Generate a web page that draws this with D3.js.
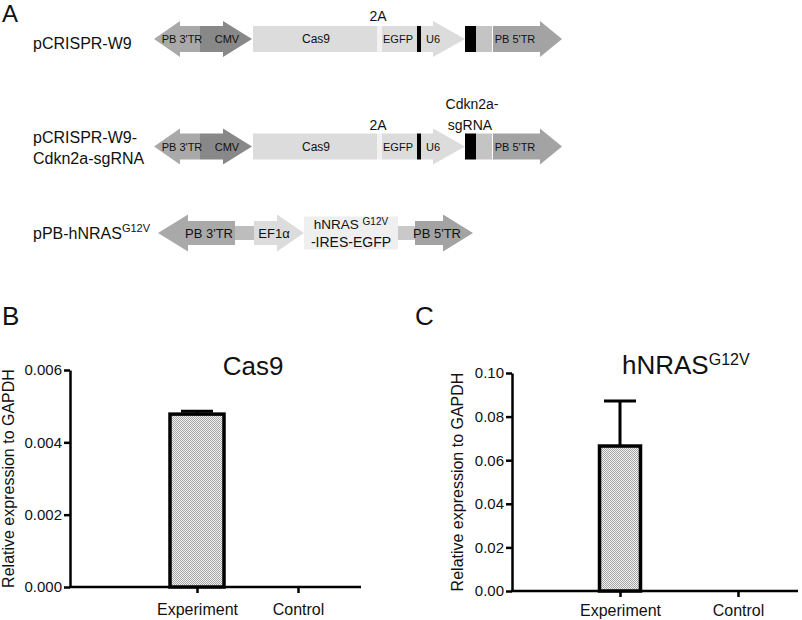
<!DOCTYPE html>
<html>
<head>
<meta charset="utf-8">
<script src="https://cdn.jsdelivr.net/npm/d3@7"></script>
<style>
  body { margin: 0; background: #fff; }
  text { font-family: "Liberation Sans", Arial, sans-serif; fill: #111; }
</style>
</head>
<body>
<div id="fig"></div>
<script>
// ---- bar chart data ----
let categories = ["Experiment", "Control"];
let cas9Values = [0.00478, 0];
let cas9Errors = [0.00008, 0];
let cas9Ticks = [0, 0.002, 0.004, 0.006];
let nrasValues = [0.0665, 0];
let nrasErrors = [0.0207, 0];
let nrasTicks = [0, 0.02, 0.04, 0.06, 0.08, 0.10];

// ---- construct maps (map units along each vector) ----
let w9Features = [
    {name: "PB 3'TR", shape: "left", start: 0, end: 46, head: 26, lx: 28},
    {name: "CMV", shape: "right", start: 46, end: 98, head: 29, lx: 73},
    {name: "Cas9", shape: "box", start: 99, end: 223, lx: 162},
    {name: "2A", shape: "box", start: 223, end: 228},
    {name: "EGFP", shape: "box", start: 228, end: 263, lx: 244},
    {name: "term", shape: "box", start: 263, end: 267},
    {name: "U6", shape: "right", start: 267, end: 311, head: 32, lx: 279},
    {name: "sgRNA", shape: "box", start: 311, end: 322},
    {name: "scaffold", shape: "box", start: 322, end: 338},
    {name: "PB 5'TR", shape: "right", start: 339, end: 408, head: 22, lx: 361}
];
let nrasFeatures = [
    {name: "PB 3'TR", shape: "left", start: 4, end: 81, head: 30, lx: 55, big: true},
    {name: "linker", shape: "thin", start: 81, end: 100},
    {name: "EF1\u03b1", shape: "right", start: 100, end: 150, head: 27, lx: 120, big: true},
    {name: "hNRAS", shape: "tall", start: 150, end: 244},
    {name: "linker2", shape: "thin", start: 244, end: 261},
    {name: "PB 5'TR", shape: "right", start: 261, end: 319, head: 30, lx: 283, big: true}
];

let featureColors = {
    "PB 3'TR": "#a9a9a9", "CMV": "#888888", "Cas9": "#dcdcdc", "2A": "#f2f2f2",
    "EGFP": "#dcdcdc", "term": "#000000", "U6": "#dcdcdc", "sgRNA": "#000000",
    "scaffold": "#c4c4c4", "PB 5'TR": "#a3a3a3", "linker": "#bdbdbd",
    "EF1\u03b1": "#dcdcdc", "hNRAS": "#efefef", "linker2": "#c9c9c9"
};

let svg = d3.select("#fig").append("svg")
    .attr("width", 802)
    .attr("height", 620);

let defs = svg.append("defs");
let pat = defs.append("pattern")
    .attr("id", "hatch")
    .attr("width", 2).attr("height", 2)
    .attr("patternUnits", "userSpaceOnUse");
pat.append("rect").attr("width", 2).attr("height", 2).attr("fill", "#f2f2f2");
pat.append("rect").attr("width", 1).attr("height", 1).attr("fill", "#a4a4a4");
pat.append("rect").attr("x", 1).attr("y", 1).attr("width", 1).attr("height", 1).attr("fill", "#a4a4a4");

// panel letters
svg.append("text").attr("x", 2).attr("y", 22).attr("font-size", 24).text("A");
svg.append("text").attr("x", 2).attr("y", 325).attr("font-size", 26).text("B");
svg.append("text").attr("x", 415).attr("y", 325).attr("font-size", 26).text("C");

// ---- panel A ----
let xMap = d3.scaleLinear().domain([0, 410]).range([154, 564]);
let line = d3.line();

function featurePoints(f, cy, bh, hh) {
    let x0 = xMap(f.start), x1 = xMap(f.end);
    if (f.shape === "right") {
        let xb = xMap(f.end - f.head);
        return [[x0, cy - bh], [xb, cy - bh], [xb, cy - hh], [x1, cy], [xb, cy + hh], [xb, cy + bh], [x0, cy + bh]];
    }
    if (f.shape === "left") {
        let xb = xMap(f.start + f.head);
        return [[x1, cy - bh], [xb, cy - bh], [xb, cy - hh], [x0, cy], [xb, cy + hh], [xb, cy + bh], [x1, cy + bh]];
    }
    let h = f.shape === "thin" ? 7 : f.shape === "tall" ? 16.5 : bh;
    return [[x0, cy - h], [x1, cy - h], [x1, cy + h], [x0, cy + h]];
}

function drawConstruct(features, cy, bh, hh) {
    let g = svg.append("g");
    g.selectAll("path")
        .data(features)
        .enter().append("path")
        .attr("d", (d) => line(featurePoints(d, cy, bh, hh)) + "Z")
        .attr("fill", (d) => featureColors[d.name]);
    g.selectAll("text")
        .data(features.filter((d) => d.lx !== undefined))
        .enter().append("text")
        .attr("x", (d) => xMap(d.lx))
        .attr("y", (d) => cy + (d.big ? 5 : 4))
        .attr("text-anchor", "middle")
        .attr("font-size", (d) => d.big ? 13 : (d.name === "Cas9" ? 12 : 11))
        .text((d) => d.name);
    return g;
}

drawConstruct(w9Features, 39, 13, 18);
drawConstruct(w9Features, 146.5, 13, 18);
let g3 = drawConstruct(nrasFeatures, 233, 12, 18.5);

// text inside the hNRAS box
let nt = g3.append("text").attr("x", xMap(197)).attr("y", 229)
    .attr("text-anchor", "middle").attr("font-size", 13.5);
nt.append("tspan").text("hNRAS ");
nt.append("tspan").attr("font-size", 10).attr("dy", -4).text("G12V");
g3.append("text").attr("x", xMap(197)).attr("y", 247)
    .attr("text-anchor", "middle").attr("font-size", 14).text("-IRES-EGFP");

// construct names & annotations
svg.append("text").attr("x", 33).attr("y", 49).attr("font-size", 16).text("pCRISPR-W9");
svg.append("text").attr("x", 33).attr("y", 143).attr("font-size", 16).text("pCRISPR-W9-");
svg.append("text").attr("x", 33).attr("y", 164).attr("font-size", 16).text("Cdkn2a-sgRNA");
let n3 = svg.append("text").attr("x", 33).attr("y", 239).attr("font-size", 16);
n3.append("tspan").text("pPB-hNRAS");
n3.append("tspan").attr("font-size", 11).attr("dy", -7).text("G12V");

svg.append("text").attr("x", 378).attr("y", 21).attr("text-anchor", "middle").attr("font-size", 14).text("2A");
svg.append("text").attr("x", 378).attr("y", 130).attr("text-anchor", "middle").attr("font-size", 14).text("2A");
svg.append("text").attr("x", 472).attr("y", 109).attr("text-anchor", "middle").attr("font-size", 14).text("Cdkn2a-");
svg.append("text").attr("x", 470).attr("y", 130).attr("text-anchor", "middle").attr("font-size", 14).text("sgRNA");

// ---- panels B and C ----
function drawBarPanel(cfg) {
    let data = categories.map((c, i) => ({cat: c, value: cfg.values[i], err: cfg.errors[i]}));

    let yScale = d3.scaleLinear().domain([0, cfg.ticks[cfg.ticks.length - 1]]).range([cfg.y0, cfg.y1]);
    let xScale = d3.scalePoint().domain(categories).range(cfg.xr);

    let g = svg.append("g");

    let yAxis = g.append("g")
        .attr("transform", "translate(" + cfg.ax + ",0)")
        .call(d3.axisLeft(yScale).tickValues(cfg.ticks).tickFormat(d3.format(cfg.fmt))
            .tickSize(6).tickSizeOuter(0).tickPadding(2));
    yAxis.selectAll("path, line").attr("stroke", "#000").attr("stroke-width", 2.5);
    yAxis.selectAll("text").attr("font-size", 15).attr("font-family", "Liberation Sans, Arial, sans-serif").attr("fill", "#111");

    let xAxis = g.append("g")
        .attr("transform", "translate(0," + cfg.y0 + ")")
        .call(d3.axisBottom(xScale).tickSize(6).tickPadding(cfg.xpad));
    xAxis.select(".domain").remove();
    xAxis.selectAll("line").attr("stroke", "#000").attr("stroke-width", 2.5);
    xAxis.selectAll("text").attr("font-size", 16).attr("font-family", "Liberation Sans, Arial, sans-serif").attr("fill", "#111");
    g.append("line")
        .attr("x1", cfg.ax - 1).attr("x2", cfg.axEnd)
        .attr("y1", cfg.y0).attr("y2", cfg.y0)
        .attr("stroke", "#000").attr("stroke-width", 2.5);

    let shown = data.filter((d) => d.value > 0);

    g.selectAll(".err")
        .data(shown)
        .enter().append("path")
        .attr("class", "err")
        .attr("d", (d) => {
            let x = xScale(d.cat), yt = yScale(d.value + d.err);
            return "M" + x + "," + yScale(d.value) + "V" + yt + "M" + (x - 16) + "," + yt + "H" + (x + 16);
        })
        .attr("stroke", "#000").attr("stroke-width", 3).attr("fill", "none");

    g.selectAll(".bar")
        .data(shown)
        .enter().append("rect")
        .attr("class", "bar")
        .attr("x", (d) => xScale(d.cat) - cfg.bw / 2)
        .attr("y", (d) => yScale(d.value))
        .attr("width", cfg.bw)
        .attr("height", (d) => cfg.y0 - yScale(d.value))
        .attr("fill", "url(#hatch)")
        .attr("stroke", "#000").attr("stroke-width", 3.5);

    g.append("text")
        .attr("transform", "translate(" + cfg.lx + "," + ((cfg.y0 + cfg.y1) / 2) + ") rotate(-90)")
        .attr("text-anchor", "middle").attr("font-size", 16)
        .text("Relative expression to GAPDH");

    let t = g.append("text").attr("x", cfg.tx).attr("y", cfg.ty).attr("font-size", 26)
        .attr("text-anchor", cfg.tAnchor);
    t.append("tspan").text(cfg.title);
    if (cfg.sup) t.append("tspan").attr("font-size", 16).attr("dy", -9).text(cfg.sup);
}

drawBarPanel({
    values: cas9Values, errors: cas9Errors, ticks: cas9Ticks, fmt: ".3f",
    y0: 587, y1: 370, ax: 70, axEnd: 361, xr: [197, 298], bw: 54, xpad: 11,
    lx: 14, tx: 253, ty: 375, tAnchor: "middle", title: "Cas9"
});
drawBarPanel({
    values: nrasValues, errors: nrasErrors, ticks: nrasTicks, fmt: ".2f",
    y0: 591, y1: 373, ax: 512, axEnd: 798, xr: [620, 738], bw: 41, xpad: 8,
    lx: 463, tx: 622, ty: 374, tAnchor: "start", title: "hNRAS", sup: "G12V"
});
</script>
</body>
</html>
